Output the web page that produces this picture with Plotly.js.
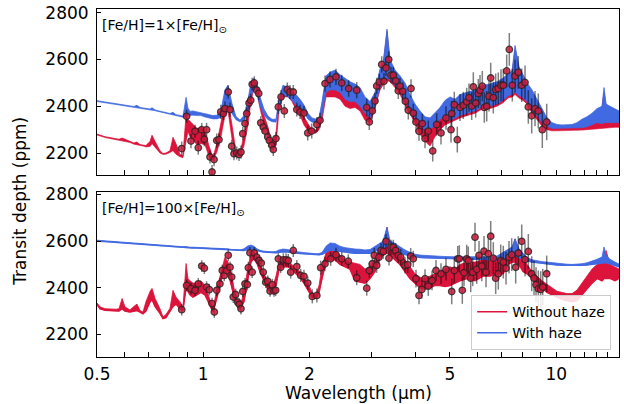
<!DOCTYPE html>
<html><head><meta charset="utf-8">
<script src="https://cdn.plot.ly/plotly-3.0.1.min.js"></script>
<style>html,body{margin:0;padding:0;background:#fff}#chart{width:624px;height:404px}</style>
</head><body><div id="chart"></div><script>
// ---------- data ----------
const seriesNames = ['Without haze', 'With haze'];
const panelLabels = ['[Fe/H]=1×[Fe/H]<sub>⊙</sub>', '[Fe/H]=100×[Fe/H]<sub>⊙</sub>'];
const xTickVals = [0.5,0.6,0.7,0.8,0.9,1,2,3,4,5,6,7,8,9,10,11,12,13,14,15];
const xTickText = ['0.5','','','','','1','2','','','5','','','','','10','','','','',''];
const yTicks = [2200, 2400, 2600, 2800];

// model wavelength grid (µm)
const modelWave = [0.500,0.510,0.527,0.544,0.566,0.577,0.589,0.600,0.620,0.636,
0.649,0.662,0.675,0.688,0.707,0.716,0.730,0.754,0.769,0.784,
0.805,0.821,0.837,0.859,0.876,0.894,0.905,0.917,0.935,0.960,
0.985,1.011,1.038,1.066,1.094,1.123,1.152,1.175,1.206,1.238,
1.271,1.304,1.339,1.365,1.392,1.420,1.448,1.486,1.526,1.566,
1.607,1.639,1.682,1.738,1.784,1.831,1.880,1.929,1.980,2.033,
2.087,2.128,2.170,2.227,2.286,2.362,2.440,2.521,2.605,2.691,
2.780,2.872,2.968,3.066,3.168,3.230,3.316,3.381,3.493,3.609,
3.729,3.852,3.980,4.112,4.249,4.389,4.535,4.685,4.841,5.001,
5.167,5.338,5.588,5.887,6.202,6.492,6.796,7.067,7.301,7.495,
7.643,7.844,8.052,8.265,8.540,8.822,9.116,9.417,9.730,10.05,
10.39,10.73,11.09,11.45,11.83,12.22,12.63,13.05,13.48,13.66,
13.84,14.20,14.67,15.06];

// top panel, 1x solar: model envelopes (lower / upper edge of the noisy spectrum, ppm)
const topNoHazeLo = [2277,2272,2266,2262,2257,2255,2254,2252,2245,2238,
2236,2232,2230,2226,2228,2240,2225,2200,2194,2195,
2202,2210,2195,2184,2180,2250,2290,2270,2255,2235,
2240,2235,2185,2168,2205,2270,2360,2380,2260,2195,
2190,2230,2320,2420,2475,2455,2390,2320,2280,2215,
2230,2380,2440,2440,2420,2385,2360,2320,2295,2288,
2285,2300,2340,2440,2440,2440,2430,2400,2390,2395,
2380,2340,2330,2390,2470,2490,2510,2505,2480,2450,
2405,2370,2330,2280,2250,2230,2270,2300,2320,2330,
2340,2350,2360,2370,2390,2390,2400,2415,2435,2440,
2450,2435,2425,2410,2370,2345,2315,2300,2295,2295,
2295,2295,2295,2297,2298,2300,2302,2305,2306,2308,
2308,2310,2310,2310];
const topNoHazeHi = [2281,2276,2270,2266,2261,2259,2264,2260,2250,2243,
2247,2236,2234,2232,2250,2276,2250,2210,2198,2200,
2210,2267,2240,2194,2188,2365,2345,2335,2325,2305,
2310,2295,2230,2180,2245,2330,2430,2420,2320,2205,
2198,2275,2380,2460,2505,2478,2430,2360,2310,2240,
2280,2430,2480,2470,2450,2415,2395,2355,2325,2300,
2298,2330,2400,2510,2530,2540,2520,2500,2485,2475,
2465,2430,2410,2450,2550,2570,2720,2590,2545,2520,
2490,2440,2400,2360,2340,2330,2350,2380,2400,2420,
2410,2430,2450,2465,2480,2490,2500,2515,2535,2545,
2640,2560,2520,2490,2460,2420,2380,2340,2320,2312,
2310,2310,2312,2320,2335,2345,2360,2375,2395,2460,
2400,2390,2385,2375];
const topHazeLo = [2420,2418,2414,2411,2408,2405,2403,2401,2398,2396,
2395,2392,2390,2387,2385,2384,2381,2376,2373,2370,
2366,2364,2360,2357,2353,2355,2362,2360,2362,2360,
2360,2354,2350,2346,2346,2352,2395,2410,2368,2342,
2333,2340,2380,2440,2480,2450,2400,2362,2342,2334,
2332,2380,2450,2440,2425,2405,2390,2372,2345,2332,
2330,2333,2360,2460,2470,2470,2460,2430,2420,2420,
2400,2370,2350,2400,2480,2500,2520,2515,2490,2460,
2420,2390,2350,2320,2300,2300,2320,2345,2355,2340,
2350,2360,2370,2380,2400,2400,2410,2425,2445,2450,
2460,2445,2435,2420,2380,2360,2330,2315,2305,2305,
2305,2305,2305,2307,2308,2312,2320,2330,2325,2330,
2330,2330,2330,2330];
const topHazeHi = [2424,2422,2418,2415,2411,2408,2406,2404,2401,2399,
2404,2395,2393,2390,2388,2394,2384,2379,2376,2373,
2369,2374,2364,2361,2357,2438,2392,2378,2380,2376,
2372,2368,2365,2360,2362,2385,2470,2490,2412,2356,
2341,2360,2430,2500,2520,2495,2440,2388,2358,2344,
2345,2430,2490,2480,2465,2450,2430,2405,2370,2350,
2345,2350,2420,2530,2545,2555,2535,2520,2505,2495,
2480,2440,2420,2460,2560,2580,2730,2600,2555,2530,
2500,2450,2410,2380,2355,2350,2375,2395,2425,2440,
2430,2450,2460,2470,2490,2495,2505,2520,2540,2550,
2660,2570,2535,2500,2470,2430,2390,2350,2330,2322,
2320,2320,2322,2330,2345,2355,2370,2390,2400,2480,
2410,2400,2390,2380];

// bottom panel, 100x solar
const botNoHazeLo = [2328,2310,2304,2303,2302,2300,2310,2300,2296,2300,
2302,2296,2288,2300,2340,2350,2320,2290,2268,2272,
2300,2320,2330,2310,2305,2400,2385,2370,2360,2370,
2380,2370,2330,2296,2360,2430,2480,2470,2400,2330,
2310,2340,2440,2510,2525,2505,2470,2430,2390,2380,
2410,2480,2490,2490,2480,2460,2445,2420,2390,2360,
2355,2380,2440,2510,2520,2520,2500,2490,2480,2430,
2425,2420,2440,2470,2530,2540,2550,2540,2520,2500,
2470,2440,2420,2400,2395,2400,2410,2410,2405,2410,
2420,2430,2440,2430,2450,2450,2460,2460,2500,2510,
2510,2500,2470,2460,2440,2420,2400,2380,2370,2360,
2350,2345,2340,2345,2370,2390,2420,2440,2430,2440,
2440,2440,2430,2440];
const botNoHazeHi = [2335,2318,2310,2308,2308,2310,2354,2318,2305,2320,
2330,2302,2296,2340,2385,2397,2355,2310,2275,2285,
2312,2389,2360,2340,2315,2504,2440,2430,2420,2420,
2430,2410,2360,2310,2400,2470,2530,2510,2450,2350,
2320,2380,2490,2545,2555,2528,2500,2460,2420,2395,
2450,2510,2520,2515,2500,2480,2470,2445,2420,2380,
2368,2410,2490,2550,2570,2560,2540,2520,2510,2505,
2500,2480,2490,2520,2580,2580,2660,2570,2560,2540,
2520,2490,2460,2445,2440,2450,2460,2470,2480,2490,
2480,2500,2510,2510,2520,2525,2520,2530,2550,2560,
2610,2540,2530,2500,2470,2450,2430,2415,2400,2385,
2380,2375,2375,2390,2420,2450,2480,2500,2510,2530,
2560,2500,2490,2480];
const botHazeLo = [2601,2600,2598,2596,2594,2593,2592,2591,2589,2588,
2587,2586,2585,2584,2582,2581,2580,2579,2578,2577,
2576,2575,2575,2574,2573,2572,2572,2571,2570,2570,
2569,2568,2567,2566,2565,2564,2562,2561,2560,2559,
2558,2560,2565,2568,2565,2560,2556,2553,2551,2550,
2550,2552,2554,2553,2550,2548,2547,2546,2545,2543,
2542,2542,2544,2552,2562,2560,2556,2552,2550,2548,
2547,2546,2548,2556,2568,2574,2578,2574,2562,2550,
2543,2538,2533,2530,2529,2528,2527,2527,2526,2525,
2525,2524,2523,2522,2522,2521,2520,2526,2532,2538,
2540,2530,2522,2516,2510,2507,2505,2503,2500,2498,
2497,2496,2495,2495,2496,2498,2501,2505,2508,2510,
2508,2503,2495,2490];
const botHazeHi = [2604,2603,2601,2599,2597,2596,2595,2594,2592,2591,
2590,2589,2588,2587,2585,2584,2583,2582,2581,2580,
2580,2579,2578,2577,2576,2577,2575,2574,2574,2573,
2572,2571,2570,2569,2568,2567,2569,2567,2564,2562,
2562,2567,2580,2583,2578,2567,2561,2557,2555,2554,
2556,2562,2566,2564,2557,2554,2552,2551,2549,2547,
2546,2547,2551,2578,2592,2590,2578,2572,2568,2566,
2565,2562,2564,2578,2592,2600,2660,2602,2590,2575,
2562,2552,2544,2540,2538,2536,2535,2535,2534,2533,
2533,2532,2533,2532,2533,2534,2536,2552,2566,2575,
2610,2568,2548,2530,2520,2515,2512,2510,2507,2504,
2502,2501,2500,2501,2503,2507,2514,2522,2532,2575,
2540,2522,2510,2502];

// observations, top panel
const topObsWave = [0.869,0.897,0.923,0.948,0.968,0.990,1.007,1.022,1.045,1.059,
1.073,1.092,1.108,1.121,1.141,1.152,1.177,1.191,1.204,1.222,
1.244,1.263,1.279,1.294,1.313,1.328,1.348,1.363,1.376,1.395,
1.418,1.436,1.455,1.479,1.496,1.523,1.539,1.563,1.579,1.607,
1.632,1.661,1.697,1.730,1.761,1.799,1.841,1.880,1.929,1.977,
2.029,2.098,2.142,2.213,2.286,2.377,2.468,2.582,2.721,2.905,
2.954,3.013,3.066,3.100,3.153,3.203,3.251,3.294,3.353,3.403,
3.455,3.509,3.569,3.609,3.674,3.737,3.810,3.878,3.936,4.006,
4.085,4.175,4.249,4.341,4.468,4.585,4.716,4.872,5.034,5.143,
5.245,5.057,5.338,5.455,5.576,5.661,5.761,5.822,5.913,6.015,
6.082,6.174,6.255,6.354,6.450,6.522,6.633,6.737,6.853,6.975,
7.081,7.239,7.363,7.509,7.643,7.809,7.984,8.158,8.335,8.522,
8.708,8.897,9.132,9.398];
const topObsDepth = [2219,2357,2251,2293,2223,2300,2259,2300,2183,2119,
2172,2254,2257,2376,2369,2390,2461,2386,2229,2197,
2200,2194,2204,2283,2326,2369,2414,2426,2494,2500,
2469,2455,2329,2311,2294,2269,2254,2233,2215,2262,
2397,2440,2380,2472,2461,2461,2386,2376,2371,2286,
2294,2322,2340,2497,2515,2526,2500,2476,2469,2395,
2333,2380,2423,2487,2504,2579,2507,2564,2600,2533,
2533,2509,2466,2486,2464,2422,2383,2476,2371,2333,
2293,2326,2262,2294,2209,2322,2286,2350,2300,2407,
2257,2369,2395,2404,2419,2437,2401,2483,2414,2455,
2469,2486,2395,2400,2443,2521,2437,2472,2476,2490,
2490,2551,2643,2490,2529,2545,2490,2502,2397,2359,
2390,2380,2300,2333];
const topObsErr = [30,28,30,28,30,28,30,30,28,30,
28,30,28,30,28,30,28,30,28,28,
28,28,28,28,28,28,28,28,28,28,
28,28,28,28,28,28,28,28,28,28,
30,30,30,30,30,30,30,30,30,32,
32,32,32,35,35,35,35,35,35,38,
35,35,35,35,35,35,35,35,35,35,
35,35,35,35,38,38,40,40,40,40,
40,42,42,45,45,48,50,50,55,55,
55,55,58,58,60,60,60,62,62,62,
65,65,65,65,65,65,68,68,68,68,
70,70,70,70,70,70,72,72,72,75,
75,75,78,78];

// observations, bottom panel
const botObsWave = [0.869,0.897,0.923,0.948,0.968,0.990,1.007,1.022,1.040,1.059,
1.075,1.092,1.115,1.132,1.147,1.165,1.177,1.191,1.204,1.216,
1.235,1.252,1.265,1.279,1.294,1.313,1.333,1.342,1.356,1.376,
1.395,1.418,1.439,1.460,1.479,1.503,1.523,1.546,1.569,1.586,
1.604,1.632,1.657,1.686,1.716,1.741,1.769,1.799,1.841,1.888,
1.929,1.977,2.037,2.098,2.151,2.213,2.296,2.377,2.468,2.576,
2.721,2.905,2.954,3.013,3.052,3.100,3.147,3.188,3.237,3.294,
3.359,3.403,3.455,3.509,3.569,3.626,3.729,3.795,3.870,3.936,
4.006,4.085,4.160,4.249,4.341,4.448,4.565,4.716,4.872,5.057,
5.143,5.259,5.314,5.419,5.479,5.576,5.635,5.724,5.800,5.887,
5.952,6.043,6.153,6.243,6.325,6.421,6.522,6.633,6.737,6.853,
6.961,7.081,7.207,7.349,7.479,7.676,7.809,7.984,8.158,8.335,
8.522,8.651,8.765,8.897,9.037,9.157,9.398];
const botObsDepth = [2306,2410,2396,2389,2417,2493,2484,2403,2392,2332,
2296,2389,2417,2474,2453,2474,2539,2488,2446,2360,
2371,2338,2329,2310,2384,2417,2414,2486,2550,2467,
2549,2531,2517,2506,2467,2424,2428,2386,2413,2386,
2389,2524,2488,2520,2520,2517,2467,2560,2491,2453,
2449,2420,2363,2367,2486,2503,2524,2542,2524,2514,
2443,2398,2474,2503,2539,2496,2531,2560,2556,2599,
2527,2574,2574,2560,2539,2531,2496,2499,2536,2524,
2439,2367,2393,2439,2407,2431,2474,2460,2479,2384,
2474,2524,2524,2389,2464,2524,2517,2441,2467,2617,
2479,2539,2493,2557,2467,2546,2621,2527,2441,2460,
2517,2510,2484,2531,2542,2488,2549,2599,2521,2556,
2460,2441,2413,2396,2393,2403,2460];
const botObsErr = [25,25,25,25,25,25,25,25,25,25,
25,25,25,25,25,25,25,25,25,25,
25,25,25,25,25,25,25,25,25,25,
25,25,25,25,25,25,25,25,25,25,
25,25,25,28,28,28,28,28,28,28,
28,28,30,30,30,30,30,30,30,30,
32,32,32,32,32,32,32,32,32,32,
32,32,32,32,32,35,35,35,35,35,
38,38,40,40,42,42,45,45,48,55,
55,55,58,58,58,60,60,60,60,62,
62,62,65,65,65,65,65,68,68,68,
68,70,70,70,70,70,72,72,72,75,
75,75,75,78,78,78,78];

// ---------- styles ----------
const RED = '#DC143C';
const BLUE = '#4169E1';
const FONT = 'DejaVu Sans';

function band(lo, hi, color, xa, ya, name, legend) {
  const out = [
    {x: modelWave, y: hi, mode: 'lines', type: 'scatter', xaxis: xa, yaxis: ya,
     line: {color: color, width: 0.8}, name: name, showlegend: false, hoverinfo: 'skip'},
    {x: modelWave, y: lo, mode: 'lines', type: 'scatter', xaxis: xa, yaxis: ya,
     fill: 'tonexty', fillcolor: color, line: {color: color, width: 0.6},
     name: name, showlegend: false, hoverinfo: 'skip'}
  ];
  if (legend) {
    // plain line trace carrying the legend entry (drawn over the band's lower edge)
    out.push({x: modelWave, y: lo, mode: 'lines', type: 'scatter', xaxis: xa, yaxis: ya,
      line: {color: color, width: 1.5}, name: name, showlegend: true, hoverinfo: 'skip'});
  }
  return out;
}
function obs(w, d, e, xa, ya) {
  return {x: w, y: d, mode: 'markers', type: 'scatter', xaxis: xa, yaxis: ya, showlegend: false,
    marker: {size: 6.5, color: 'rgba(205,25,58,0.85)', line: {color: 'rgba(35,35,35,0.8)', width: 1.3}},
    error_y: {type: 'data', array: e, visible: true, color: 'rgba(0,0,0,0.5)', thickness: 1.5, width: 0}};
}

const traces = [].concat(
  band(topNoHazeLo, topNoHazeHi, RED, 'x2', 'y2', seriesNames[0], false),
  band(topHazeLo, topHazeHi, BLUE, 'x2', 'y2', seriesNames[1], false),
  [obs(topObsWave, topObsDepth, topObsErr, 'x2', 'y2')],
  band(botNoHazeLo, botNoHazeHi, RED, 'x', 'y', seriesNames[0], true),
  band(botHazeLo, botHazeHi, BLUE, 'x', 'y', seriesNames[1], true),
  [obs(botObsWave, botObsDepth, botObsErr, 'x', 'y')]
);

const xRange = [Math.log10(0.5), Math.log10(15.06)];
function xAxis(anchor, labels) {
  return {type: 'log', range: xRange, anchor: anchor, domain: [0, 1],
    tickmode: 'array', tickvals: xTickVals, ticktext: xTickText, showticklabels: labels,
    ticks: 'inside', ticklen: 5, tickwidth: 1, tickcolor: 'black',
    showline: true, linecolor: 'black', linewidth: 1, mirror: true,
    showgrid: false, zeroline: false, tickfont: {family: FONT, size: 17, color: 'black'},
    ticklabelstandoff: 2};
}
function yAxis(anchor, domain, range) {
  return {anchor: anchor, domain: domain, range: range,
    tickmode: 'array', tickvals: yTicks, ticks: 'inside', ticklen: 4, tickwidth: 1, tickcolor: 'black',
    showline: true, linecolor: 'black', linewidth: 1, mirror: true,
    showgrid: false, zeroline: false, tickfont: {family: FONT, size: 17, color: 'black'},
    ticklabelstandoff: 4};
}

const layout = {
  width: 624, height: 404,
  margin: {l: 97, r: 5, t: 9, b: 47, pad: 0},
  paper_bgcolor: 'white', plot_bgcolor: 'white',
  font: {family: FONT, size: 17, color: 'black'},
  showlegend: true,
  legend: {x: 0.985, y: 0.02, xanchor: 'right', yanchor: 'bottom', traceorder: 'normal',
    font: {family: FONT, size: 14, color: 'black'},
    bgcolor: 'rgba(255,255,255,0.85)', bordercolor: '#cccccc', borderwidth: 1},
  xaxis: xAxis('y', true),
  yaxis: yAxis('x', [0, 0.475], [2103, 2812]),
  xaxis2: xAxis('y2', false),
  yaxis2: yAxis('x2', [0.5216, 1], [2104, 2816]),
  annotations: [
    {text: panelLabels[0], xref: 'paper', yref: 'paper', x: 0.006, y: 0.951,
     xanchor: 'left', yanchor: 'middle', showarrow: false, font: {family: FONT, size: 14}},
    {text: panelLabels[1], xref: 'paper', yref: 'paper', x: 0.006, y: 0.425,
     xanchor: 'left', yanchor: 'middle', showarrow: false, font: {family: FONT, size: 14}},
    {text: 'Transit depth (ppm)', xref: 'paper', yref: 'paper', x: -0.1475, y: 0.446,
     xanchor: 'center', yanchor: 'middle', textangle: -90, showarrow: false, font: {family: FONT, size: 17}},
    {text: 'Wavelength (µm)', xref: 'paper', yref: 'paper', x: 0.5, y: -0.1034,
     xanchor: 'center', yanchor: 'middle', showarrow: false, font: {family: FONT, size: 17}}
  ]
};

Plotly.newPlot('chart', traces, layout, {displayModeBar: false, staticPlot: true});
</script></body></html>
